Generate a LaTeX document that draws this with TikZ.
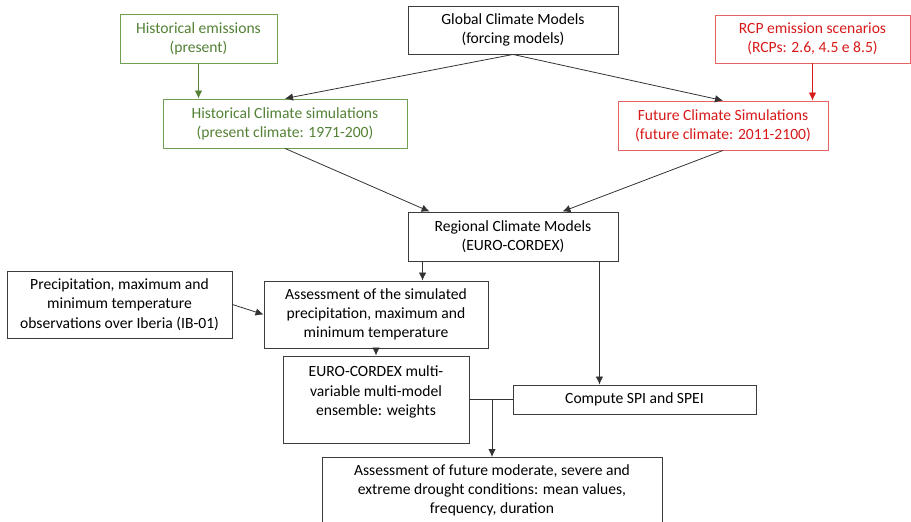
\documentclass[tikz,border=0pt]{standalone}
\usepackage{fontspec}
\setmainfont{Carlito}
\usepackage{tikz}
\usetikzlibrary{arrows,arrows.meta}

\definecolor{histgreen}{RGB}{83,129,53}
\definecolor{histframe}{RGB}{112,160,80}
\definecolor{rcpred}{RGB}{215,25,25}
\definecolor{rcpframe}{RGB}{228,100,100}
\definecolor{boxgray}{RGB}{60,60,60}

\begin{document}
\begin{tikzpicture}[x=1pt,y=-1pt]
\tikzstyle{box} = [draw=boxgray,line width=0.9pt,align=center,inner sep=2pt,font=\fontsize{15.6}{19.3}\selectfont]
\tikzstyle{greenbox} = [box,draw=histframe,text=histgreen]
\tikzstyle{redbox} = [box,draw=rcpframe,text=rcpred]
\tikzstyle{link} = [-{Latex[length=8pt,width=7.5pt]},line width=0.8pt,color=black!80]

\useasboundingbox (0,0) rectangle (911,522);

\node[greenbox,minimum width=157pt,minimum height=49pt] (he) at (198.5,39) {Historical emissions\\(present)};
\node[box,minimum width=210pt,minimum height=48pt] (gcm) at (513,30) {Global Climate Models\\(forcing models)};
\node[redbox,minimum width=195pt,minimum height=48pt] (rcp) at (812.5,39) {RCP emission scenarios\\(RCPs: 2.6, 4.5 e 8.5)};

\node[greenbox,minimum width=244pt,minimum height=49pt] (hcs) at (285,123.5) {Historical Climate simulations\\(present climate: 1971-200)};
\node[redbox,minimum width=210pt,minimum height=49pt] (fcs) at (723,125.5) {Future Climate Simulations\\(future climate: 2011-2100)};

\node[box,minimum width=210pt,minimum height=49pt] (rcm) at (513,236.5) {Regional Climate Models\\(EURO-CORDEX)};

\node[box,minimum width=225pt,minimum height=67pt] (obs) at (119.5,304.5) {Precipitation, maximum and\\minimum temperature\\observations over Iberia (IB-01)};
\node[box,minimum width=224pt,minimum height=67pt] (asm) at (376,314.5) {Assessment of the simulated\\precipitation, maximum and\\minimum temperature};

\node[box,minimum width=186pt,minimum height=87pt] (ens) at (376,399.5) {};
\node[box,draw=none,anchor=north] (enstext) at ([yshift=-8pt]ens.north) {EURO-CORDEX multi-\\variable multi-model\\ensemble: weights};
\node[box,minimum width=243pt,minimum height=29pt] (spi) at (634.5,399.5) {Compute SPI and SPEI};

\node[box,minimum width=340pt,minimum height=70pt,anchor=north] (fut) at (492,457) {};
\node[box,draw=none,anchor=north] (futtext) at ([yshift=-5pt]fut.north) {Assessment of future moderate, severe and\\extreme drought conditions: mean values,\\frequency, duration};

\coordinate (r1) at ([xshift=15pt]rcm.south west);
\coordinate (r2) at ([xshift=-19pt]rcm.south east);
\coordinate (j) at (fut.north |- spi.west);

\draw[link,color=histgreen] (he) -- (hcs.north -| he);
\draw[link,color=rcpred] (rcp) -- (fcs.north -| rcp);
\draw[link] (gcm.south) -- (hcs.north);
\draw[link] (gcm.south) -- (fcs.north);
\draw[link] (hcs.south) -- ([xshift=22pt]rcm.north west);
\draw[link] (fcs.south) -- ([xshift=-56pt]rcm.north east);
\draw[link] (r1) -- (r1 |- asm.north);
\draw[link] (r2) -- (r2 |- spi.north);
\draw[link] (obs.east) -- (asm.west);
\draw[link] (asm.south) -- (ens.north);
\draw[line width=0.8pt,color=black!80] (ens.east) -- (spi.west);
\draw[link] (j) -- (fut.north);
\end{tikzpicture}
\end{document}
